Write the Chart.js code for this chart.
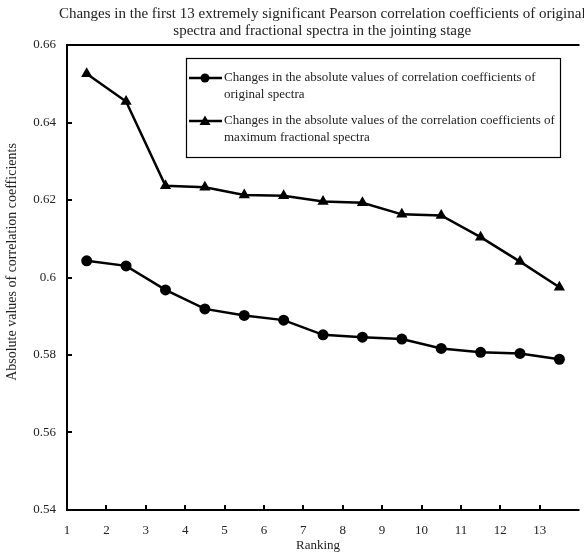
<!DOCTYPE html>
<html>
<head>
<meta charset="utf-8">
<script src="https://cdn.jsdelivr.net/npm/chart.js@4.4.1/dist/chart.umd.min.js"></script>
<style>
  html, body { margin: 0; padding: 0; background: #fff; }
  #wrap { width: 584px; height: 556px; }
</style>
</head>
<body>
<div id="wrap"><canvas id="c" width="584" height="556"></canvas></div>
<script>
// Ranking positions 1..13
const ranks = [1, 2, 3, 4, 5, 6, 7, 8, 9, 10, 11, 12, 13];
// |r| of original spectra
const originalValues = [0.6043, 0.6030, 0.5968, 0.5919, 0.5902, 0.5890, 0.5852, 0.5846, 0.5841, 0.5817, 0.5807, 0.5804, 0.5789];
// |r| of maximum fractional spectra
const fractionalValues = [0.6526, 0.6454, 0.6237, 0.6233, 0.6213, 0.6211, 0.6196, 0.6193, 0.6163, 0.6160, 0.6104, 0.6041, 0.5975];
const yTicks = [0.54, 0.56, 0.58, 0.6, 0.62, 0.64, 0.66];

const titleLines = [
  'Changes in the first 13 extremely significant Pearson correlation coefficients of original',
  'spectra and fractional spectra in the jointing stage'
];
const legendEntries = [
  ['Changes in the absolute values of correlation coefficients of', 'original spectra'],
  ['Changes in the absolute values of the correlation coefficients of', 'maximum fractional spectra']
];
const xTitle = 'Ranking';
const yTitle = 'Absolute values of correlation coefficients';

const SERIF = '"Liberation Serif", "DejaVu Serif", serif';
const INK = '#000';
const TEXT = '#222';

// each ranked point sits centred in its interval between ticks
const toPoints = vals => vals.map((v, i) => ({ x: ranks[i] + 0.5, y: v }));

const decor = {
  id: 'decor',
  beforeDatasetsDraw(chart) {
    const { ctx, chartArea: a, scales: { x, y } } = chart;
    ctx.save();
    ctx.strokeStyle = INK;
    ctx.lineWidth = 2;
    ctx.beginPath();
    ctx.moveTo(a.right + 2, a.top);
    ctx.lineTo(a.left, a.top);
    ctx.lineTo(a.left, a.bottom);
    ctx.lineTo(a.right + 2, a.bottom);
    ctx.stroke();
    // inward tick marks
    ctx.beginPath();
    x.ticks.forEach(t => {
      const px = Math.round(x.getPixelForValue(t.value));
      if (px <= a.left + 1) return;
      ctx.moveTo(px, a.bottom);
      ctx.lineTo(px, a.bottom - 5);
    });
    y.ticks.forEach(t => {
      const py = Math.round(y.getPixelForValue(t.value));
      if (py <= a.top + 1 || py >= a.bottom - 1) return;
      ctx.moveTo(a.left, py);
      ctx.lineTo(a.left + 5, py);
    });
    ctx.stroke();
    ctx.restore();
  },
  afterDraw(chart) {
    const { ctx, chartArea: a } = chart;
    ctx.save();
    // title
    ctx.fillStyle = TEXT;
    ctx.font = '15px ' + SERIF;
    ctx.textAlign = 'center';
    ctx.textBaseline = 'middle';
    const cx = (a.left + a.right) / 2;
    ctx.fillText(titleLines[0], cx, 14);
    ctx.fillText(titleLines[1], cx, 31);
    // axis titles
    ctx.font = '13px ' + SERIF;
    ctx.fillText(xTitle, 318, 546);
    ctx.save();
    ctx.font = '14px ' + SERIF;
    ctx.translate(12, 262);
    ctx.rotate(-Math.PI / 2);
    ctx.fillText(yTitle, 0, 0);
    ctx.restore();

    // legend box
    const bx = 186, by = 58, bw = 374, bh = 99;
    ctx.fillStyle = '#fff';
    ctx.fillRect(bx, by, bw, bh);
    ctx.strokeStyle = INK;
    ctx.lineWidth = 1.2;
    ctx.strokeRect(bx + 0.5, by + 0.5, bw, bh);
    const rowsY = [78, 121];
    legendEntries.forEach((lines, i) => {
      const ly = rowsY[i];
      ctx.strokeStyle = INK;
      ctx.lineWidth = 2.5;
      ctx.beginPath();
      ctx.moveTo(189, ly);
      ctx.lineTo(222, ly);
      ctx.stroke();
      ctx.fillStyle = INK;
      ctx.beginPath();
      if (i === 0) {
        ctx.arc(205, ly, 4.5, 0, Math.PI * 2);
      } else {
        ctx.moveTo(205, ly - 5.5);
        ctx.lineTo(210.5, ly + 4);
        ctx.lineTo(199.5, ly + 4);
        ctx.closePath();
      }
      ctx.fill();
      ctx.fillStyle = TEXT;
      ctx.font = '13px ' + SERIF;
      ctx.textAlign = 'left';
      ctx.textBaseline = 'middle';
      ctx.fillText(lines[0], 224, ly);
      ctx.fillText(lines[1], 224, ly + 17);
    });
    ctx.restore();
  }
};

new Chart(document.getElementById('c'), {
  type: 'line',
  data: {
    datasets: [
      {
        label: legendEntries[0].join(' '),
        data: toPoints(originalValues),
        borderColor: INK,
        backgroundColor: INK,
        borderWidth: 2.5,
        pointStyle: 'circle',
        pointRadius: 5.5,
        pointBorderWidth: 0,
        tension: 0
      },
      {
        label: legendEntries[1].join(' '),
        data: toPoints(fractionalValues),
        borderColor: INK,
        backgroundColor: INK,
        borderWidth: 2.5,
        pointStyle: 'triangle',
        pointRadius: 6.5,
        pointBorderWidth: 0,
        tension: 0
      }
    ]
  },
  options: {
    responsive: false,
    animation: false,
    devicePixelRatio: 1,
    layout: { padding: { top: 45, right: 0, bottom: 0, left: 0 } },
    plugins: {
      legend: { display: false },
      title: { display: false },
      tooltip: { enabled: false }
    },
    scales: {
      x: {
        type: 'linear',
        min: ranks[0],
        max: 13.96,
        afterFit: s => { s.height = 46; },
        grid: { display: false, drawTicks: false },
        border: { display: false },
        ticks: {
          stepSize: 1,
          includeBounds: false,
          autoSkip: false,
          maxRotation: 0,
          padding: 13,
          color: TEXT,
          font: { family: SERIF, size: 13 },
          callback: v => ranks.includes(v) ? String(v) : ''
        }
      },
      y: {
        type: 'linear',
        min: yTicks[0],
        max: yTicks[yTicks.length - 1],
        afterFit: s => { s.width = 67; },
        afterBuildTicks: s => { s.ticks = yTicks.map(v => ({ value: v })); },
        grid: { display: false, drawTicks: false },
        border: { display: false },
        ticks: {
          padding: 11,
          color: TEXT,
          font: { family: SERIF, size: 13 },
          callback: v => String(+v.toFixed(2))
        }
      }
    }
  },
  plugins: [decor]
});
</script>
</body>
</html>
